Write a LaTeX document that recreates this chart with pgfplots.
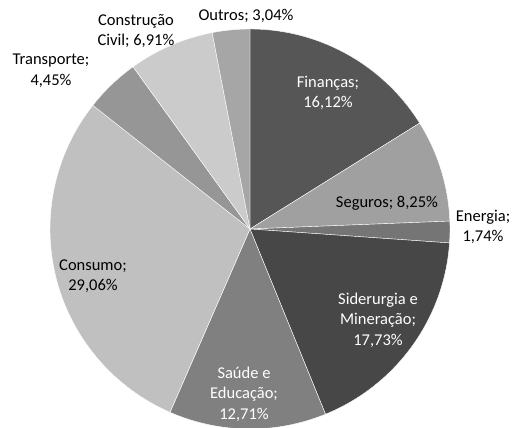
\documentclass[border=0pt]{standalone}
\usepackage{pgfplots}
\pgfplotsset{compat=1.18}
\usepackage{fontspec}
\setmainfont{Carlito}
\definecolor{cFin}{HTML}{565656}
\definecolor{cSeg}{HTML}{A0A0A0}
\definecolor{cEne}{HTML}{757575}
\definecolor{cSid}{HTML}{474747}
\definecolor{cSau}{HTML}{808080}
\definecolor{cCon}{HTML}{C0C0C0}
\definecolor{cTra}{HTML}{969696}
\definecolor{cCiv}{HTML}{CBCBCB}
\definecolor{cOut}{HTML}{A6A6A6}
\tikzset{lbl/.style={font=\fontsize{16.5}{20.5}\selectfont, align=center, inner sep=0pt}}
% #1 cumulative percent at start, #2 percent value, #3 colour
\newcommand\slice[3]{%
  \fill[#3, draw=white, line width=0.4pt] (axis cs:250,199) --
    (axis cs:{250+200*cos(90-3.6*#1)},{199+200*sin(90-3.6*#1)})
    arc[start angle={90-3.6*#1}, end angle={90-3.6*(#1+#2)}, radius=200pt] -- cycle;}
\begin{document}
\begin{tikzpicture}
\begin{axis}[scale only axis, width=514pt, height=428pt,
  xmin=0, xmax=514, ymin=0, ymax=428, hide axis, clip=false]
\slice{0}{16.12}{cFin}
\slice{16.12}{8.25}{cSeg}
\slice{24.37}{1.74}{cEne}
\slice{26.11}{17.73}{cSid}
\slice{43.84}{12.71}{cSau}
\slice{56.55}{29.06}{cCon}
\slice{85.61}{4.45}{cTra}
\slice{90.06}{6.91}{cCiv}
\slice{96.97}{3.03}{cOut}
\node[lbl, text=white] at (axis cs:328,335) {Finanças;\\16,12\%};
\node[lbl, text=black] at (axis cs:387,225) {Seguros; 8,25\%};
\node[lbl, text=black] at (axis cs:483,201) {Energia;\\1,74\%};
\node[lbl, text=white] at (axis cs:378,108) {Siderurgia e\\Mineração;\\17,73\%};
\node[lbl, text=white] at (axis cs:244,34) {Saúde e\\Educação;\\12,71\%};
\node[lbl, text=black] at (axis cs:93,152) {Consumo;\\29,06\%};
\node[lbl, text=black] at (axis cs:51,357) {Transporte;\\4,45\%};
\node[lbl, text=black] at (axis cs:136,397) {Construção\\Civil; 6,91\%};
\node[lbl, text=black] at (axis cs:246,412) {Outros; 3,04\%};
\end{axis}
\pgfresetboundingbox
\path[use as bounding box] (current axis.south west) rectangle (current axis.north east);
\end{tikzpicture}
\end{document}
